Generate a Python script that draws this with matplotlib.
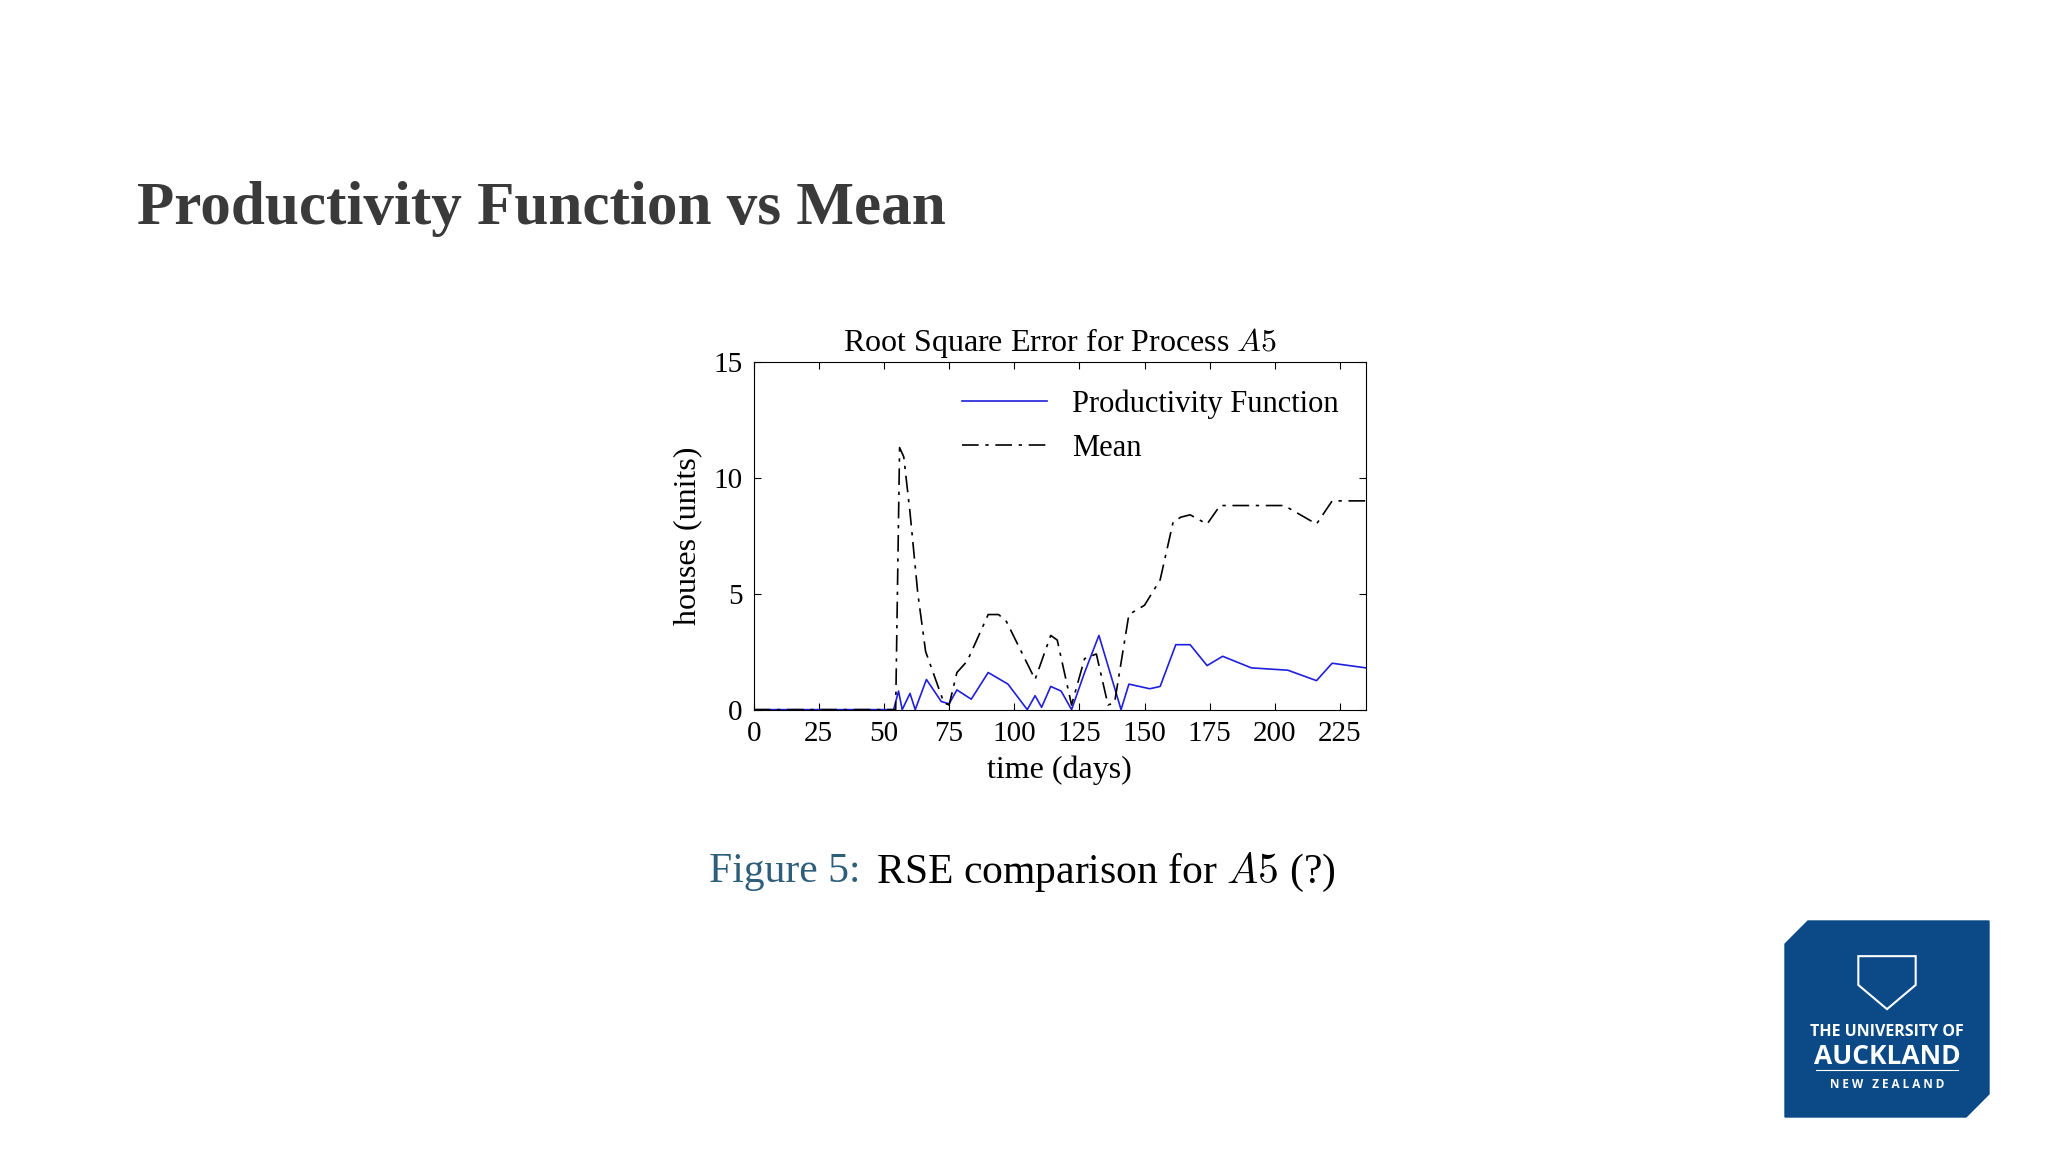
import matplotlib
matplotlib.use("Agg")
import matplotlib.pyplot as plt
from matplotlib.patches import Polygon

mean_x = [0, 54.5, 56, 57.6, 60, 63, 66, 73, 75, 78, 82, 90, 94, 97, 108, 114, 116.5, 122, 127, 131.5, 136, 138.5, 144, 150, 156, 161, 164, 167.5, 174, 179, 203.6, 216, 222, 235]
mean_y = [0, 0, 11.3, 10.9, 8.5, 5, 2.5, 0.3, 0.2, 1.6, 2.1, 4.1, 4.1, 3.8, 1.3, 3.2, 3.0, 0.2, 2.2, 2.4, 0.2, 0.3, 4.1, 4.5, 5.6, 8.1, 8.3, 8.4, 8.0, 8.8, 8.8, 8.0, 9.0, 9.0]
pf_x = [0, 53.7, 55.6, 57, 60, 62, 66.3, 72, 75, 78, 83.5, 90, 97.6, 105, 108, 110.5, 114, 118, 122, 127, 132.5, 141, 144, 152, 156, 162, 167.5, 174, 180, 191, 205, 216, 222, 235]
pf_y = [0, 0, 0.8, 0, 0.7, 0, 1.3, 0.35, 0.25, 0.85, 0.45, 1.6, 1.1, 0, 0.6, 0.1, 1.0, 0.8, 0, 1.6, 3.2, 0, 1.1, 0.9, 1.0, 2.8, 2.8, 1.9, 2.3, 1.8, 1.7, 1.25, 2.0, 1.8]
xticks = [0, 25, 50, 75, 100, 125, 150, 175, 200, 225]
yticks = [0, 5, 10, 15]

plt.rcParams['mathtext.fontset'] = 'cm'
serif = 'Liberation Serif'
fig = plt.figure(figsize=(20.48, 11.52), dpi=100)
fig.text(0.067, 0.819, "Productivity Function vs Mean", fontsize=44, fontweight='bold',
         family=serif, color='#3a3a3a', va='center')

ax = fig.add_axes([0.368, 0.384, 0.299, 0.302])
ax.plot(pf_x, pf_y, color='#1f1fdc', lw=1.2, label='Productivity Function')
ax.plot(mean_x, mean_y, color='black', lw=1.2, dashes=[10, 4, 2, 4], label='Mean')
ax.set_xlim(0, 235)
ax.set_ylim(0, 15)
ax.set_xticks(xticks)
ax.set_yticks(yticks)
ax.tick_params(direction='in', top=True, right=True, labelsize=21, length=5, pad=8)
for lab in ax.get_xticklabels() + ax.get_yticklabels():
    lab.set_family(serif)
ax.set_title("Root Square Error for Process $A5$", fontsize=23, family=serif, pad=8)
ax.set_xlabel("time (days)", fontsize=23, family=serif, labelpad=6)
ax.set_ylabel("houses (units)", fontsize=23, family=serif, labelpad=8)
leg = ax.legend(loc='upper right', frameon=False, prop={'family': serif, 'size': 22}, handlelength=2.8)

fig.text(0.42, 0.243, "Figure 5:", fontsize=30, family=serif, color='#2e5f7a', ha='right', va='center')
fig.text(0.423, 0.243, " RSE comparison for $\\mathit{A}5$ (?)", fontsize=30, family=serif, color='black', ha='left', va='center')

# logo
x0, x1, y0, y1 = 1785/2048, 1989/2048, 1 - 1117/1152, 1 - 921/1152
c = 0.02
poly = Polygon([[x0 + c*0.56, y1], [x1, y1], [x1, y0 + c], [x1 - c*0.56, y0], [x0, y0], [x0, y1 - c]],
               closed=True, transform=fig.transFigure, color='#0b4a86', zorder=1)
fig.add_artist(poly)
xc = (x0 + x1) / 2
for yy, s, fs in [(0.104, "THE UNIVERSITY OF", 11.5), (0.083, "AUCKLAND", 19), (0.059, "N E W   Z E A L A N D", 8.5)]:
    fig.text(xc, yy, s, color='white', fontsize=fs, ha='center', va='center',
             family='Open Sans', fontweight='bold', zorder=5)
fig.add_artist(plt.Line2D([x0 + 0.015, x1 - 0.015], [0.071, 0.071], transform=fig.transFigure, color='white', lw=0.8, zorder=5))
shield = Polygon([[xc - 0.014, 0.17], [xc + 0.014, 0.17], [xc + 0.014, 0.145], [xc, 0.124], [xc - 0.014, 0.145]],
                 closed=True, transform=fig.transFigure, fill=False, ec='white', lw=1.5, zorder=5)
fig.add_artist(shield)
fig.savefig("out.png", dpi=100)
